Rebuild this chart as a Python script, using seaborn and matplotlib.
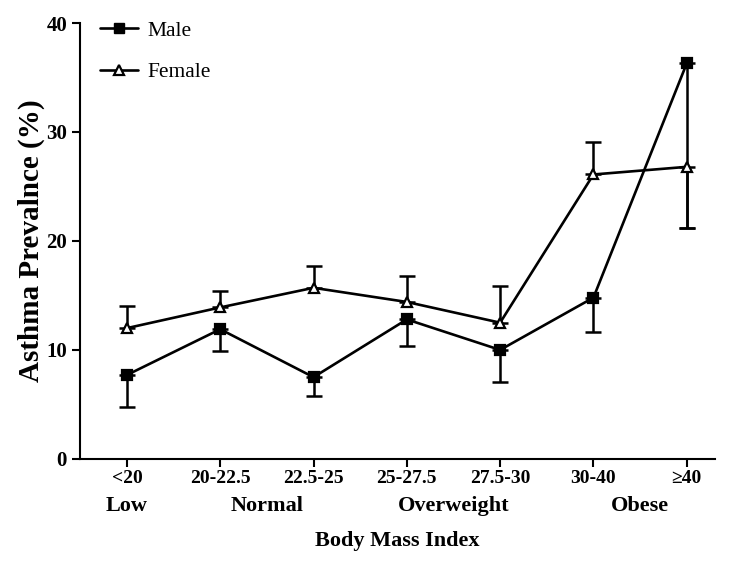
import numpy as np
import pandas as pd
import seaborn as sns
import matplotlib
from matplotlib import pyplot as plt
from matplotlib.lines import Line2D

sns.set_theme(style='ticks')
plt.rcParams['font.family'] = ['Liberation Serif', 'DejaVu Serif']
plt.rcParams['text.color'] = 'black'
plt.rcParams['axes.labelcolor'] = 'black'
plt.rcParams['xtick.color'] = 'black'
plt.rcParams['ytick.color'] = 'black'

bmi_groups = ['<20', '20-22.5', '22.5-25', '25-27.5', '27.5-30', '30-40', '\u226540']
bmi_classes = ['Low', 'Normal', 'Overweight', 'Obese']
class_pos = [0, 1.5, 3.5, 5.5]

male = [7.7, 11.9, 7.5, 12.8, 10.0, 14.8, 36.3]
male_low = [4.8, 9.9, 5.8, 10.4, 7.1, 11.6, 21.2]
female = [12.0, 13.9, 15.7, 14.4, 12.5, 26.1, 26.8]
female_high = [14.0, 15.4, 17.7, 16.8, 15.9, 29.1, 26.8]
female_low = [12.0, 13.9, 15.7, 14.4, 12.5, 26.1, 21.2]

idx = np.arange(len(bmi_groups))
df = pd.DataFrame({
    'pos': np.concatenate([idx, idx]),
    'prev': male + female,
    'sex': ['Male'] * len(idx) + ['Female'] * len(idx),
})

fig = plt.figure(figsize=(7.5, 5.61), dpi=100)
ax = fig.add_axes([0.107, 0.182, 0.846, 0.777])

# error bars (male: lower only, female: upper only / lower at >=40)
ax.errorbar(idx, male, yerr=[np.array(male) - np.array(male_low), np.zeros(len(idx))],
            fmt='none', ecolor='black', elinewidth=1.8, capsize=6, capthick=1.8, zorder=2)
ax.errorbar(idx, female, yerr=[np.array(female) - np.array(female_low),
                               np.array(female_high) - np.array(female)],
            fmt='none', ecolor='black', elinewidth=1.8, capsize=6, capthick=1.8, zorder=2)

sns.lineplot(data=df, x='pos', y='prev', hue='sex', style='sex',
             palette={'Male': 'black', 'Female': 'black'},
             markers={'Male': 's', 'Female': '^'}, dashes=False,
             linewidth=1.9, markersize=7, ax=ax, legend=False, zorder=3)
for line, fc in zip(ax.lines[-2:], ['black', 'white']):
    line.set_markerfacecolor(fc)
    line.set_markeredgecolor('black')
    line.set_markeredgewidth(1.6)

ax.set_xlim(-0.5, 6.3)
ax.set_ylim(0, 40)
ax.set_yticks([0, 10, 20, 30, 40])
ax.set_xticks(idx)
ax.set_xticklabels(bmi_groups, fontsize=14, fontweight='bold')
ax.tick_params(axis='y', labelsize=15, width=1.5, length=6)
for lab in ax.get_yticklabels():
    lab.set_fontweight('bold')
ax.tick_params(axis='x', width=1.5, length=6, pad=2)
sns.despine(ax=ax)
for s in ['left', 'bottom']:
    ax.spines[s].set_linewidth(1.5)
    ax.spines[s].set_color('black')

trans = matplotlib.transforms.blended_transform_factory(ax.transData, ax.transAxes)
for p, c in zip(class_pos, bmi_classes):
    ax.text(p, -0.107, c, transform=trans, ha='center', va='center',
            fontsize=16, fontweight='bold')

ax.set_xlabel('Body Mass Index', fontsize=16, fontweight='bold', labelpad=32)
ax.set_ylabel('Asthma Prevalnce (%)', fontsize=21, fontweight='bold', labelpad=1)

handles = [
    Line2D([], [], color='black', lw=1.9, marker='s', markersize=7, markerfacecolor='black'),
    Line2D([], [], color='black', lw=1.9, marker='^', markersize=7, markerfacecolor='white',
           markeredgewidth=1.6),
]
ax.legend(handles, ['Male', 'Female'], loc='upper left', bbox_to_anchor=(0.0, 1.05),
          frameon=False, fontsize=15.5, handlelength=1.8, labelspacing=1.0, handletextpad=0.4)

fig.savefig('out.png', dpi=100)
